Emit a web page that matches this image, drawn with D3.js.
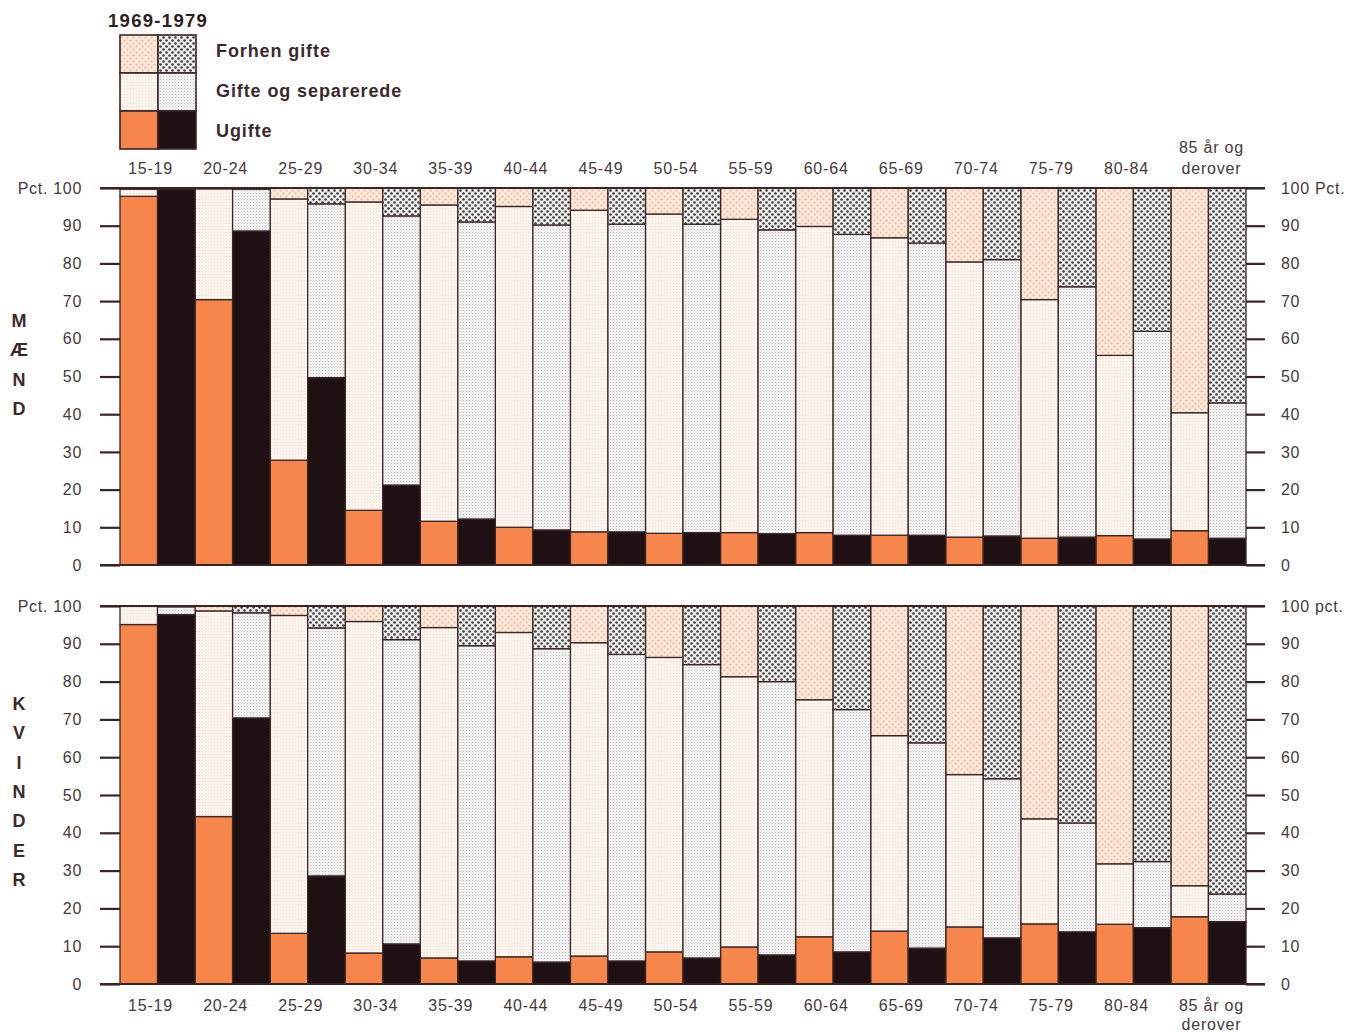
<!DOCTYPE html>
<html><head><meta charset="utf-8">
<script src="https://cdn.jsdelivr.net/npm/d3@7"></script>
<style>
body{margin:0;background:#fff;}
text{font-family:"Liberation Sans",Arial,Helvetica,sans-serif;}
</style></head>
<body><svg id="c" width="1347" height="1032"></svg>
<script>
// ---- data ----
const ages = ["15-19","20-24","25-29","30-34","35-39","40-44","45-49","50-54","55-59","60-64","65-69","70-74","75-79","80-84","85+"];
const ageLabels = [["15-19"],["20-24"],["25-29"],["30-34"],["35-39"],["40-44"],["45-49"],["50-54"],["55-59"],["60-64"],["65-69"],["70-74"],["75-79"],["80-84"],["85 år og","derover"]];
const years = ["1969","1979"];
const statuses = ["Ugifte","Gifte og separerede","Forhen gifte"];
const yTicks = [0,10,20,30,40,50,60,70,80,90,100];

const maend1969Ugifte = [97.8,70.4,27.8,14.5,11.6,10.0,8.8,8.4,8.6,8.6,7.9,7.4,7.1,7.8,9.1];
const maend1969Gifte  = [1.9,29.4,69.3,81.8,83.9,85.1,85.3,84.7,83.1,81.2,78.9,73.0,63.3,47.8,31.3];
const maend1969Forhen = [0.3,0.2,2.9,3.7,4.5,4.9,5.9,6.9,8.3,10.2,13.2,19.6,29.6,44.4,59.6];
const maend1979Ugifte = [99.6,88.6,49.7,21.2,12.2,9.3,8.8,8.6,8.3,7.9,7.9,7.7,7.4,6.9,7.1];
const maend1979Gifte  = [0.4,11.1,46.1,71.4,78.8,80.9,81.6,81.8,80.6,79.8,77.5,73.3,66.4,55.1,35.9];
const maend1979Forhen = [0.0,0.3,4.2,7.4,9.0,9.8,9.6,9.6,11.1,12.3,14.6,19.0,26.2,38.0,57.0];

const kvinder1969Ugifte = [95.1,44.3,13.4,8.2,6.9,7.2,7.4,8.5,9.8,12.5,14.0,15.1,15.9,15.8,17.8];
const kvinder1969Gifte  = [4.8,54.4,84.1,87.7,87.4,85.8,82.9,77.9,71.5,62.7,51.7,40.3,27.8,16.0,8.2];
const kvinder1969Forhen = [0.1,1.3,2.5,4.1,5.7,7.0,9.7,13.6,18.7,24.8,34.3,44.6,56.3,68.2,74.0];
const kvinder1979Ugifte = [97.7,70.4,28.6,10.6,6.1,5.8,6.1,6.9,7.7,8.5,9.5,12.2,13.8,14.9,16.5];
const kvinder1979Gifte  = [2.1,27.8,65.6,80.5,83.4,82.9,81.1,77.6,72.3,64.1,54.3,42.1,28.8,17.5,7.3];
const kvinder1979Forhen = [0.2,1.8,5.8,8.9,10.5,11.3,12.8,15.5,20.0,27.4,36.2,45.7,57.4,67.6,76.2];

// ---- drawing ----
const svg = d3.select("#c");
svg.append("rect").attr("width",1347).attr("height",1032).attr("fill","#fff");
const INK = "#3a2526";
const TXT = "#47393b";

const defs = svg.append("defs");
function dotPattern(id, size, bg, dots, r, col){
  const p = defs.append("pattern").attr("id",id).attr("patternUnits","userSpaceOnUse")
    .attr("width",size).attr("height",size);
  p.append("rect").attr("width",size).attr("height",size).attr("fill",bg);
  dots.forEach(d=>p.append("circle").attr("cx",d[0]).attr("cy",d[1]).attr("r",r).attr("fill",col));
}
dotPattern("p69g",3,"#fcf5ee",[[1.5,1.5]],0.55,"#e6dcd3");
dotPattern("p69f",6,"#fbe9dc",[[1.5,1.5],[4.5,4.5]],1.1,"#f0b59a");
dotPattern("p79g",3,"#eff0ef",[[1.5,1.5]],0.6,"#bcc0c0");
dotPattern("p79f",6,"#eceeed",[[1.5,1.5],[4.5,4.5]],1.25,"#3a3334");

const fills = {
  "1969": ["#f7864c","url(#p69g)","url(#p69f)"],
  "1979": ["#1f1113","url(#p79g)","url(#p79f)"]
};

const x0 = d3.scaleBand().domain(ages).range([120,1246]).paddingInner(0).paddingOuter(0);
const x1 = d3.scaleBand().domain(years).range([0,x0.bandwidth()]).padding(0);

const panels = [
  {name:"M", top:188, bottom:565, letters:["M","Æ","N","D"], letterY0:320, rightTop:"100 Pct.",
   data:{"1969":[maend1969Ugifte,maend1969Gifte,maend1969Forhen],"1979":[maend1979Ugifte,maend1979Gifte,maend1979Forhen]},
   labelPos:"top"},
  {name:"K", top:606, bottom:984, letters:["K","V","I","N","D","E","R"], letterY0:703, rightTop:"100 pct.",
   data:{"1969":[kvinder1969Ugifte,kvinder1969Gifte,kvinder1969Forhen],"1979":[kvinder1979Ugifte,kvinder1979Gifte,kvinder1979Forhen]},
   labelPos:"bottom"}
];

panels.forEach(P=>{
  const y = d3.scaleLinear().domain([0,100]).range([P.bottom,P.top]);
  const g = svg.append("g");
  years.forEach(yr=>{
    const rows = ages.map((a,i)=>{
      const o={age:a};
      statuses.forEach((s,k)=>o[s]=P.data[yr][k][i]);
      return o;
    });
    const stacked = d3.stack().keys(statuses)(rows);
    stacked.forEach((layer,k)=>{
      g.selectAll(null).data(layer).enter().append("rect")
        .attr("x",d=>x0(d.data.age)+x1(yr))
        .attr("width",x1.bandwidth())
        .attr("y",d=>y(Math.min(d[1],100)))
        .attr("height",d=>Math.max(0,y(d[0])-y(Math.min(d[1],100))))
        .attr("fill",fills[yr][k])
        .attr("stroke",INK).attr("stroke-width",1.3);
    });
  });
  // axes
  const left = d3.axisLeft(y).tickValues(yTicks).tickSize(20).tickPadding(18)
    .tickFormat(d=>d===100?"Pct. 100":d);
  const gl = svg.append("g").attr("transform","translate(120,0)").call(left);
  const right = d3.axisRight(y).tickValues(yTicks).tickSize(19).tickPadding(16)
    .tickFormat(d=>d===100?P.rightTop:d);
  const gr = svg.append("g").attr("transform","translate(1246,0)").call(right);
  [gl,gr].forEach(ga=>{
    ga.select(".domain").remove();
    ga.selectAll(".tick line").attr("stroke",INK).attr("stroke-width",2.2);
    ga.selectAll(".tick text").attr("fill",TXT).style("font-size","16px").style("letter-spacing","0.7px")
      .style("font-family","'Liberation Sans',Arial,sans-serif");
  });
  // baseline and top line
  [0,100].forEach(v=>{
    svg.append("line").attr("x1",100).attr("x2",1265).attr("y1",y(v)).attr("y2",y(v))
      .attr("stroke",INK).attr("stroke-width",2);
  });
  // category labels
  ageLabels.forEach((lines,i)=>{
    const cx = x0(ages[i]) + x0.bandwidth()/2 + (lines.length>1?3:-7);
    const t = svg.append("text").attr("x",cx).attr("text-anchor","middle")
      .attr("fill",TXT).style("font-size","16px").style("letter-spacing","0.8px");
    lines.forEach((ln,j)=>{
      let yy;
      if(P.labelPos==="top") yy = (P.top-14) - (lines.length-1-j)*21;
      else yy = (P.bottom+27) + j*19;
      t.append("tspan").attr("x",cx).attr("y",yy).text(ln);
    });
  });
  // vertical letters
  P.letters.forEach((L,i)=>{
    svg.append("text").attr("x",19).attr("y",P.letterY0 + i*29.3 + 7).attr("text-anchor","middle")
      .attr("fill","#3b2a2d").style("font-size","18px").style("font-weight","bold").text(L);
  });
});

// ---- legend ----
const lg = svg.append("g");
lg.append("text").attr("x",108).attr("y",27).attr("fill","#2e2022")
  .style("font-size","18.5px").style("font-weight","bold").style("letter-spacing","1.3px").text("1969-1979");
const legRows = [2,1,0];
legRows.forEach((k,r)=>{
  years.forEach((yr,c)=>{
    lg.append("rect").attr("x",120+c*38).attr("y",35+r*38).attr("width",38).attr("height",38)
      .attr("fill",fills[yr][k]).attr("stroke",INK).attr("stroke-width",1.6);
  });
  lg.append("text").attr("x",216).attr("y",57+r*40).attr("fill","#3b2a2d")
    .style("font-size","18px").style("font-weight","bold").style("letter-spacing","0.9px").text(statuses[k]);
});
</script></body></html>
